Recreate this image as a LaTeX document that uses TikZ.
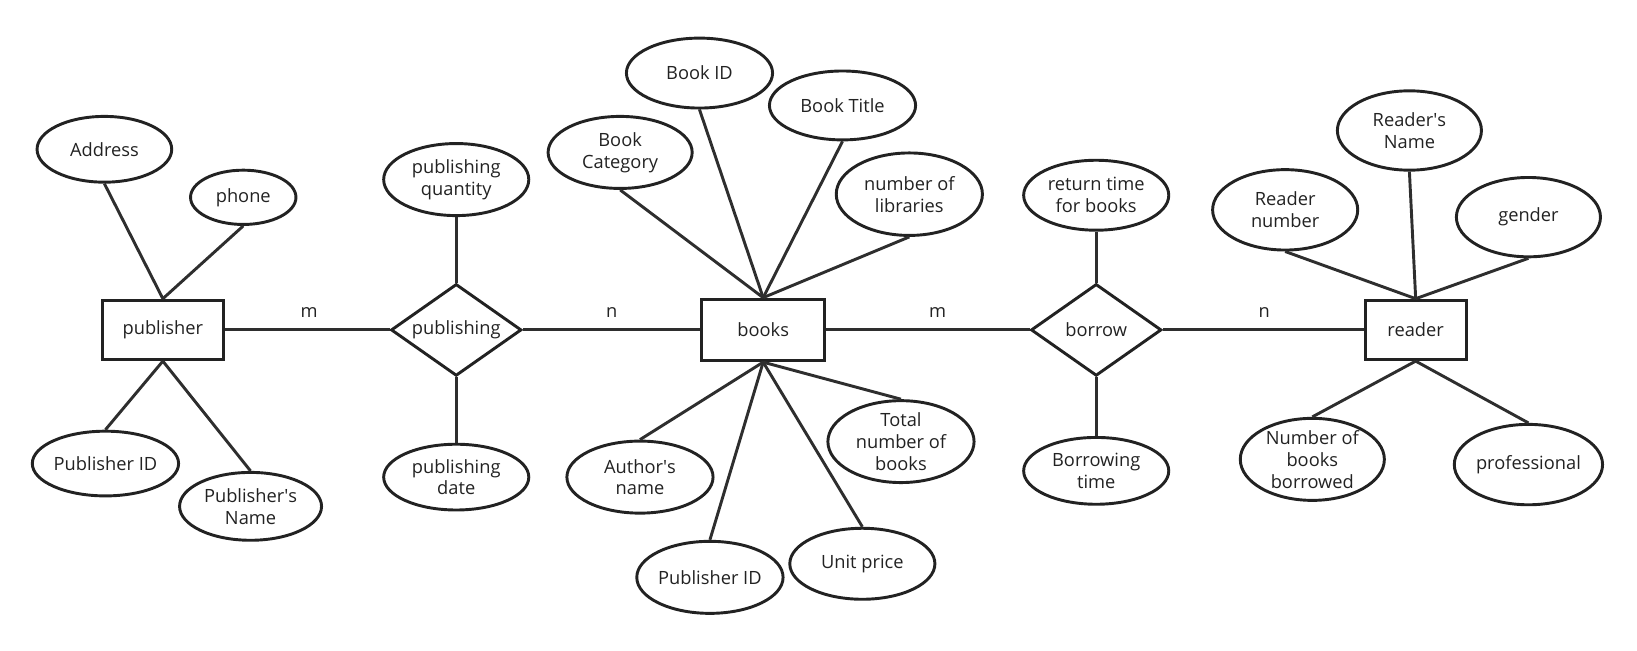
\documentclass[tikz,border=0pt]{standalone}
\usepackage{fontspec}
\setmainfont{Open Sans}
\usepackage{textcomp}
\usetikzlibrary{shapes.geometric}
\definecolor{ink}{HTML}{222222}
\definecolor{wire}{HTML}{2E2E2E}
\newcommand{\ap}{\textquotesingle}
\tikzset{
  lbl/.style={font=\fontsize{17.5}{21}\selectfont, text=ink},
  attr/.style={lbl, ellipse, draw=ink, line width=2.8pt, inner sep=0pt, align=center},
  entity/.style={lbl, rectangle, draw=ink, line width=2.8pt, inner sep=0pt, align=center},
  rel/.style={diamond, draw=ink, line width=2.8pt, inner sep=0pt, aspect=1.42,
    minimum width=125pt, minimum height=88pt},
  rellabel/.style={lbl, inner sep=0pt},
  card/.style={lbl, inner sep=0pt},
  link/.style={draw=wire, line width=2.8pt}
}
\begin{document}
\begin{tikzpicture}[x=1pt,y=-1pt]
\useasboundingbox (0,0) rectangle (1568,623);
% entities
\node[entity, minimum width=116pt, minimum height=57pt] (publisher) at (156,316) {publisher};
\node[entity, minimum width=118pt, minimum height=59pt] (books) at (731,316) {books};
\node[entity, minimum width=97pt, minimum height=57pt] (reader) at (1356,316) {reader};
% relationships
\node[rel] (publishing) at (437,316) {};
\node[rellabel] (publishingtxt) at (publishing.center) {publishing};
\node[rel] (borrow) at (1050,316) {};
\node[rellabel] (borrowtxt) at (borrow.center) {borrow};
% publisher attributes
\node[attr, minimum width=129pt, minimum height=63pt] (addr) at (100,143) {Address};
\node[attr, minimum width=101pt, minimum height=52pt] (phone) at (233,189) {phone};
\node[attr, minimum width=130pt, minimum height=62pt] (pubid) at (101,444) {Publisher ID};
\node[attr, minimum width=136pt, minimum height=65pt] (pubname) at (240,485) {Publisher\ap s\\Name};
% publishing attributes
\node[attr, minimum width=139pt, minimum height=69pt] (pqty) at (437,172) {publishing\\quantity};
\node[attr, minimum width=139pt, minimum height=63pt] (pdate) at (437,457) {publishing\\date};
% books attributes
\node[attr, minimum width=140pt, minimum height=67pt] (bookid) at (670,70) {Book ID};
\node[attr, minimum width=140pt, minimum height=66pt] (title) at (807,101) {Book Title};
\node[attr, minimum width=138pt, minimum height=69pt] (cat) at (594,146) {Book\\Category};
\node[attr, minimum width=140pt, minimum height=79pt] (libs) at (871,186) {number of\\libraries};
\node[attr, minimum width=140pt, minimum height=69pt] (author) at (613,457) {Author\ap s\\name};
\node[attr, minimum width=140pt, minimum height=69pt] (total) at (863,423) {Total\\number of\\books};
\node[attr, minimum width=139pt, minimum height=69pt] (bpubid) at (680,553) {Publisher ID};
\node[attr, minimum width=139pt, minimum height=68pt] (price) at (826,540) {Unit price};
% borrow attributes
\node[attr, minimum width=139pt, minimum height=67pt] (ret) at (1050,187) {return time\\for books};
\node[attr, minimum width=139pt, minimum height=64pt] (btime) at (1050,451) {Borrowing\\time};
% reader attributes
\node[attr, minimum width=138pt, minimum height=76pt] (rname) at (1350,125) {Reader\ap s\\Name};
\node[attr, minimum width=139pt, minimum height=77pt] (rnum) at (1231,201) {Reader\\number};
\node[attr, minimum width=138pt, minimum height=76pt] (gender) at (1464,208) {gender};
\node[attr, minimum width=138pt, minimum height=72pt] (nborrow) at (1257,440) {Number of\\books\\borrowed};
\node[attr, minimum width=138pt, minimum height=77pt] (prof) at (1464,445) {professional};
% cardinalities
\node[card] (c1) at (296,299) {m};
\node[card] (c2) at (586,299) {n};
\node[card] (c3) at (898,299) {m};
\node[card] (c4) at (1211,299) {n};
% main links
\draw[link] (publisher.east) -- (publishing.west);
\draw[link] (publishing.east) -- (books.west);
\draw[link] (books.east) -- (borrow.west);
\draw[link] (borrow.east) -- (reader.west);
% attribute links
\draw[link] (addr.south) -- (publisher.north);
\draw[link] (phone.south) -- (publisher.north);
\draw[link] (pubid.north) -- (publisher.south);
\draw[link] (pubname.north) -- (publisher.south);
\draw[link] (pqty.south) -- (publishing.north);
\draw[link] (pdate.north) -- (publishing.south);
\draw[link] (cat.south) -- (books.north);
\draw[link] (bookid.south) -- (books.north);
\draw[link] (title.south) -- (books.north);
\draw[link] (libs.south) -- (books.north);
\draw[link] (author.north) -- (books.south);
\draw[link] (bpubid.north) -- (books.south);
\draw[link] (price.north) -- (books.south);
\draw[link] (total.north) -- (books.south);
\draw[link] (ret.south) -- (borrow.north);
\draw[link] (btime.north) -- (borrow.south);
\draw[link] (rnum.south) -- (reader.north);
\draw[link] (rname.south) -- (reader.north);
\draw[link] (gender.south) -- (reader.north);
\draw[link] (nborrow.north) -- (reader.south);
\draw[link] (prof.north) -- (reader.south);
\end{tikzpicture}
\end{document}
